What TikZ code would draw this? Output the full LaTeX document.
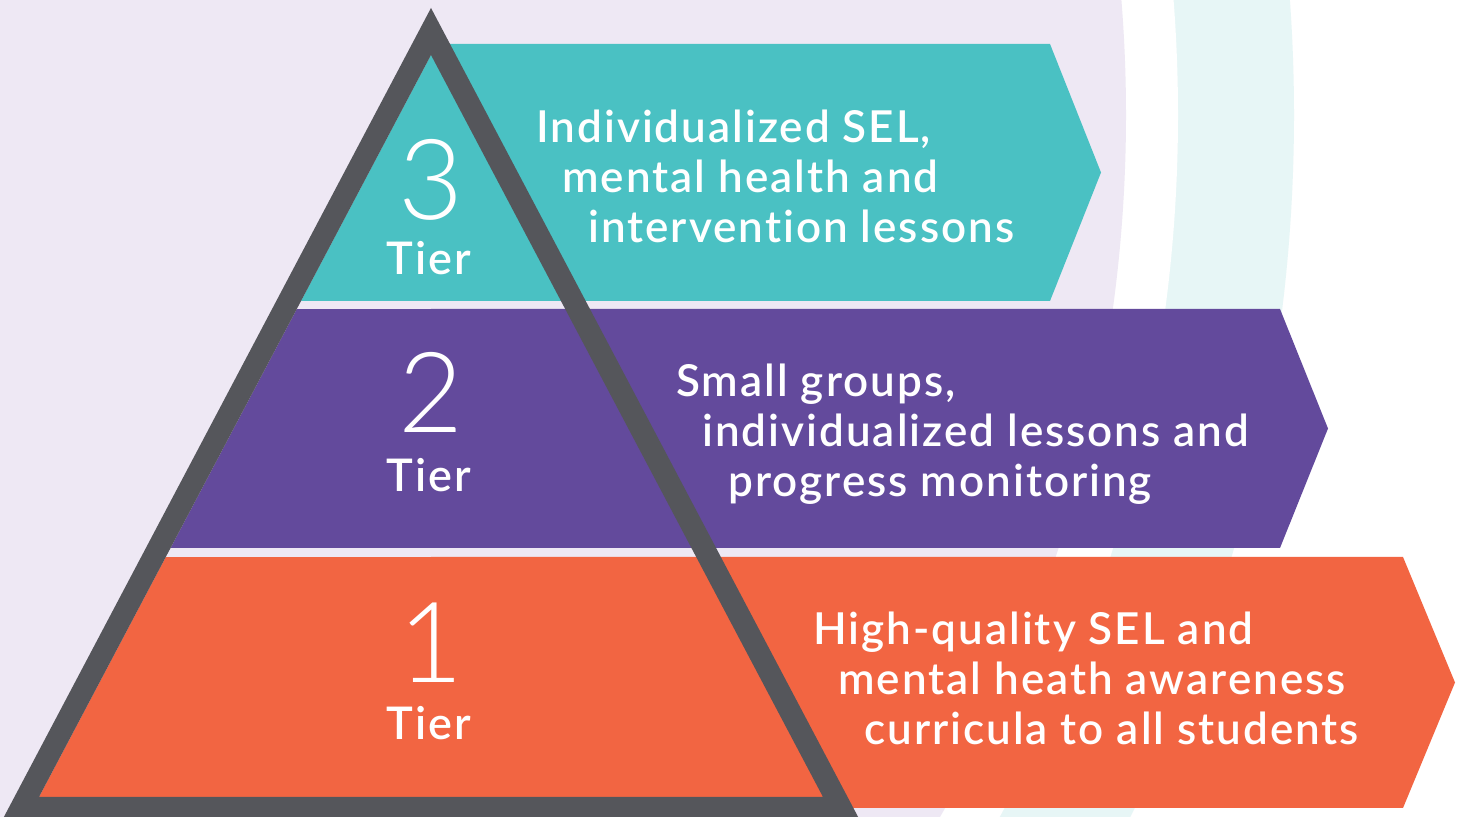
\documentclass[tikz,border=0pt]{standalone}
\usepackage{fontspec}
\IfFontExistsTF{Lato Semibold}{\newfontfamily\txtfont{Lato Semibold}[Ligatures=NoCommon, LetterSpace=4.5]}{\newfontfamily\txtfont{Lato}[UprightFont={* Bold}, Ligatures=NoCommon, LetterSpace=4.5]}
\IfFontExistsTF{Lato Light}{\newfontfamily\digfont{Lato Light}}{\newfontfamily\digfont{Lato}}
\definecolor{bglav}{HTML}{EEE8F4}
\definecolor{bgteal}{HTML}{E7F6F6}
\definecolor{tealc}{HTML}{4AC1C3}
\definecolor{purplec}{HTML}{634A9C}
\definecolor{orangec}{HTML}{F26542}
\definecolor{grayc}{HTML}{55565B}
\begin{document}
\begin{tikzpicture}[x=0.5pt,y=-0.5pt,
  lbl/.style={inner sep=0pt, text=white, font=\txtfont\fontsize{22pt}{26pt}\selectfont, anchor=base west},
  digit/.style={inner sep=0pt, text=white, font=\digfont\fontsize{56pt}{60pt}\selectfont, anchor=base},
  tierlbl/.style={inner sep=0pt, text=white, font=\txtfont\fontsize{22.5pt}{26pt}\selectfont, anchor=base}]
\useasboundingbox (0,0) rectangle (1463,817);
\clip (0,0) rectangle (1463,817);
% background
\fill[white] (0,0) rectangle (1463,817);
\fill[bgteal] (-290,115) circle[radius=792pt];
\fill[white] (-290,115) circle[radius=734pt];
\fill[bglav] (-290,115) circle[radius=708pt];
% bands inside the pyramid
\begin{scope}
  \clip (431,55) -- (39,797) -- (823,797) -- cycle;
  \fill[tealc] (0,0) rectangle (1463,301);
  \fill[purplec] (0,309) rectangle (1463,548);
  \fill[orangec] (0,557) rectangle (1463,797);
\end{scope}
% arrows
\fill[tealc] (431,44) -- (1050,44) -- (1101,172.5) -- (1050,301) -- (431,301) -- cycle;
\fill[purplec] (431,309) -- (1280,309) -- (1328,428.5) -- (1280,548) -- (431,548) -- cycle;
\fill[orangec] (431,557) -- (1403,557) -- (1455,682.5) -- (1403,808) -- (431,808) -- cycle;
% pyramid border
\fill[grayc, even odd rule] (431,8) -- (-3,830) -- (865,830) -- cycle
  (431,55) -- (39,797) -- (823,797) -- cycle;
% tier labels
\node[digit] (d3) at (431,220) {3};
\node[tierlbl] (tier3) at (429,275) {Tier};
\node[digit] (d2) at (431,433) {2};
\node[tierlbl] (tier2) at (429,492) {Tier};
\node[digit] (d1) at (431,683) {1};
\node[tierlbl] (tier1) at (429,740) {Tier};
% texts
\node[lbl] (t3a) at (536,143) {Individualized SEL,};
\node[lbl] (t3b) at (562,193) {mental health and};
\node[lbl] (t3c) at (588,243) {intervention lessons};
\node[lbl] (t2a) at (676,397) {Small groups,};
\node[lbl] (t2b) at (702,447) {individualized lessons and};
\node[lbl] (t2c) at (728,497) {progress monitoring};
\node[lbl] (t1a) at (813,645) {High-quality SEL and};
\node[lbl] (t1b) at (838,695) {mental heath awareness};
\node[lbl] (t1c) at (864,745) {curricula to all students};
\end{tikzpicture}
\end{document}
